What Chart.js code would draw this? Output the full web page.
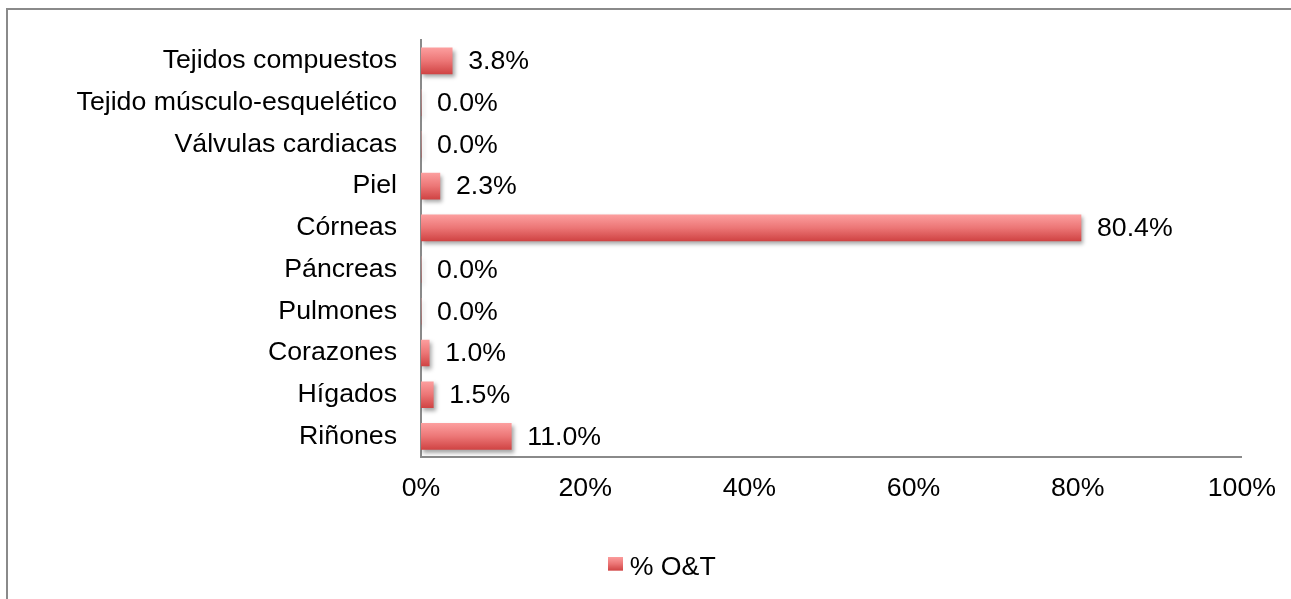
<!DOCTYPE html>
<html lang="es">
<head>
  <meta charset="UTF-8">
  <title>% O&amp;T por tipo de órgano y tejido</title>
  <script src="https://cdn.jsdelivr.net/npm/chart.js"></script>
  <style>
    body {
      margin: 0;
      background: #fff;
      overflow: hidden;
    }
    .marco {
      position: absolute;
      left: 6px;
      top: 8px;
      width: 1400px;
      height: 700px;
      border: 2px solid #8a8a8a;
    }
    #grafico {
      position: absolute;
      left: 0;
      top: 0;
    }
  </style>
</head>
<body>
  <div class="marco"></div>
  <canvas id="grafico" width="1291" height="599"></canvas>
  <script>
    // categorias de arriba hacia abajo
    const categorias = [
      'Tejidos compuestos', 'Tejido músculo-esquelético', 'Válvulas cardiacas', 'Piel',
      'Córneas', 'Páncreas', 'Pulmones', 'Corazones', 'Hígados', 'Riñones'
    ];
    const porcentajes = [3.8, 0.0, 0.0, 2.3, 80.4, 0.0, 0.0, 1.0, 1.5, 11.0];
    const serie = '% O&T';

    const fuente = "'Liberation Sans', Arial, sans-serif";
    const tam = 26.7;

    function degradado(ctx, y0, y1) {
      const g = ctx.createLinearGradient(0, y0, 0, y1);
      g.addColorStop(0, '#fc9e9e');
      g.addColorStop(0.5, '#ec7676');
      g.addColorStop(1, '#d04444');
      return g;
    }

    // cuadrito de la leyenda (parte baja transparente para subirlo un poco)
    const cuadro = document.createElement('canvas');
    cuadro.width = 15;
    cuadro.height = 22;
    const cctx = cuadro.getContext('2d');
    cctx.fillStyle = degradado(cctx, 0, 14);
    cctx.fillRect(0, 0, 15, 14);

    const sombra = {
      id: 'sombra',
      beforeDatasetsDraw(chart) {
        const c = chart.ctx;
        c.save();
        c.shadowColor = 'rgba(0,0,0,0.35)';
        c.shadowBlur = 4;
        c.shadowOffsetX = 2;
        c.shadowOffsetY = 3;
      },
      afterDatasetsDraw(chart) {
        chart.ctx.restore();
      }
    };

    const etiquetas = {
      id: 'etiquetas',
      afterDatasetsDraw(chart) {
        const c = chart.ctx;
        const meta = chart.getDatasetMeta(0);
        c.save();
        c.font = tam + 'px ' + fuente;
        c.fillStyle = '#000';
        c.textAlign = 'left';
        c.textBaseline = 'middle';
        meta.data.forEach((barra, i) => {
          c.fillText(porcentajes[i].toFixed(1) + '%', barra.x + 16, barra.y + 1);
        });
        c.restore();
      }
    };

    // la leyenda va algo a la derecha del centro
    const moverLeyenda = {
      id: 'moverLeyenda',
      afterLayout(chart) {
        if (chart.legend) {
          chart.legend.left += 42;
          chart.legend.right += 42;
        }
      }
    };

    new Chart(document.getElementById('grafico'), {
      type: 'bar',
      data: {
        labels: categorias,
        datasets: [{
          label: serie,
          data: porcentajes,
          barThickness: 26,
          borderWidth: 0,
          backgroundColor(context) {
            const chart = context.chart;
            const y = chart.scales.y;
            if (!y || context.dataIndex === undefined) return '#e86a6a';
            const centro = y.getPixelForValue(context.dataIndex);
            if (!Number.isFinite(centro)) return '#e86a6a';
            return degradado(chart.ctx, centro - 13, centro + 13);
          }
        }]
      },
      options: {
        indexAxis: 'y',
        responsive: false,
        animation: false,
        layout: { padding: { top: 34, right: 45, bottom: 8, left: 0 } },
        scales: {
          x: {
            min: 0,
            max: 100,
            grid: { display: false, drawTicks: false },
            border: { display: true, color: '#8a8a8a', width: 2 },
            ticks: {
              stepSize: 20,
              padding: 15,
              color: '#000',
              font: { family: fuente, size: tam },
              callback: v => v + '%'
            },
            afterFit(scale) { scale.height = 87; }
          },
          y: {
            grid: { display: false, drawTicks: false },
            border: { display: true, color: '#8a8a8a', width: 2 },
            ticks: {
              padding: 24,
              color: '#000',
              font: { family: fuente, size: tam }
            },
            afterFit(scale) { scale.width = 421; }
          }
        },
        plugins: {
          legend: {
            position: 'bottom',
            labels: {
              color: '#000',
              font: { family: fuente, size: tam },
              usePointStyle: true,
              pointStyle: cuadro,
              pointStyleWidth: 2,
              padding: 10
            }
          },
          tooltip: { enabled: false }
        }
      },
      plugins: [sombra, etiquetas, moverLeyenda]
    });
  </script>
</body>
</html>
